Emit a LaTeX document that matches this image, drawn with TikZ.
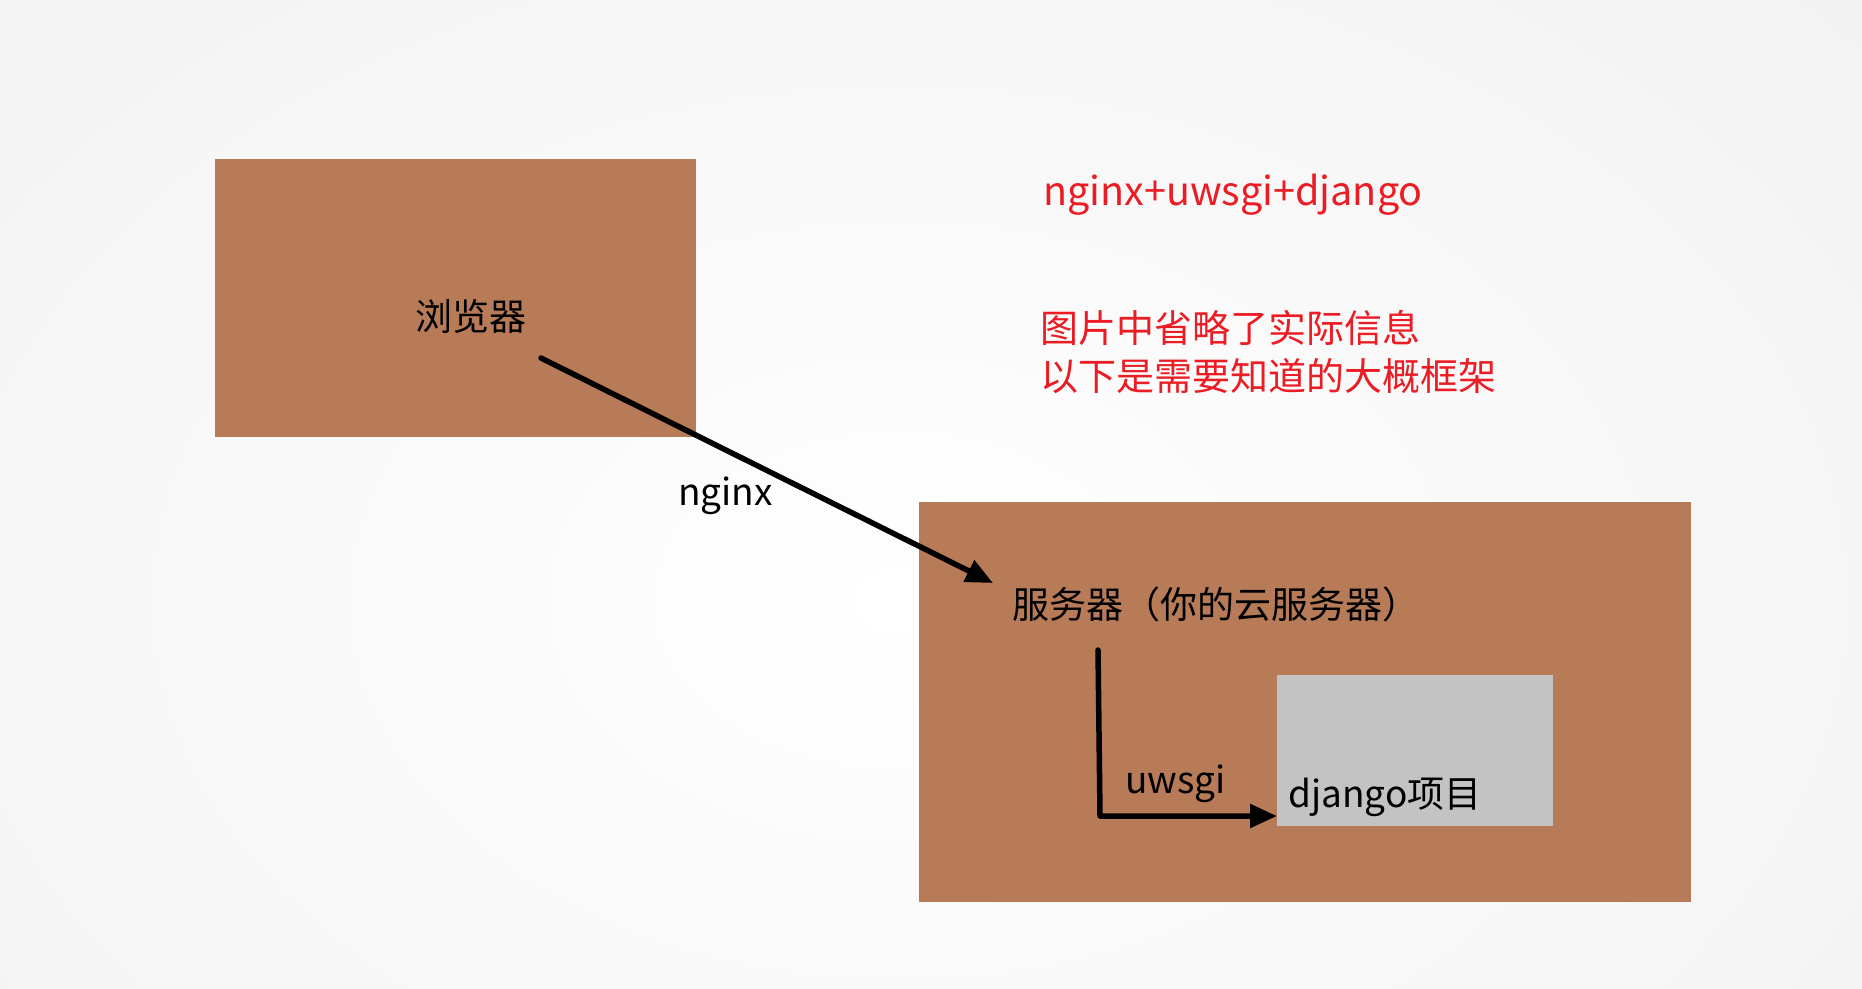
\documentclass[tikz,border=0pt]{standalone}
\usepackage{fontspec}
\setmainfont{Noto Sans CJK SC}
\usetikzlibrary{arrows.meta}
\definecolor{boxbrown}{HTML}{B87B57}
\definecolor{boxgray}{HTML}{C3C3C3}
\definecolor{notered}{HTML}{EB1C24}
\definecolor{bgedge}{HTML}{EFEFEF}
\tikzset{
  brownbox/.style={fill=boxbrown, draw=none, inner sep=0pt, anchor=north west},
  graybox/.style={fill=boxgray, draw=none, inner sep=0pt, anchor=north west},
  blacklabel/.style={inner sep=0pt, font=\fontsize{37}{44}\selectfont, text=black},
  redlabel/.style={inner sep=0pt, font=\fontsize{38}{46}\selectfont, text=notered, anchor=base west},
  flow/.style={line width=5.5pt, line cap=round, line join=round, -{Triangle[length=27pt,width=23pt]}}
}
\begin{document}
\begin{tikzpicture}[x=1pt,y=-1pt]
\useasboundingbox (0,0) rectangle (1862,988);
\shade[outer color=bgedge, inner color=white] (-700,-500) rectangle (2500,1700);
\node[brownbox, minimum width=481pt, minimum height=278pt] (browser) at (215,159) {};
\node[brownbox, minimum width=772pt, minimum height=400pt] (server) at (919,502) {};
\node[graybox, minimum width=276pt, minimum height=151pt] (django) at (1277,675) {};
\node[blacklabel, anchor=center] (browsertxt) at (471,316) {浏览器};
\node[blacklabel, anchor=base west] (servertxt) at (1012,618) {服务器（你的云服务器）};
\node[blacklabel, anchor=base west] (nginxtxt) at (678,505) {nginx};
\node[blacklabel, anchor=base west] (uwsgitxt) at (1125,793) {uwsgi};
\node[blacklabel, anchor=base west] (djangotxt) at (1288,807) {django项目};
\node[redlabel, font=\fontsize{39.5}{46}\selectfont] (title) at (1043,205) {nginx+uwsgi+django};
\node[redlabel] (note1) at (1040,342) {图片中省略了实际信息};
\node[redlabel] (note2) at (1040,390) {以下是需要知道的大概框架};
\coordinate (nstart) at (541,358);
\coordinate (nend) at (993,583);
\coordinate (ustart) at (1098,650);
\coordinate (ucorner) at (1100,816);
\draw[flow] (nstart) -- (nend);
\draw[flow] (ustart) -- (ucorner) -- (django.west |- ucorner);
\end{tikzpicture}
\end{document}
